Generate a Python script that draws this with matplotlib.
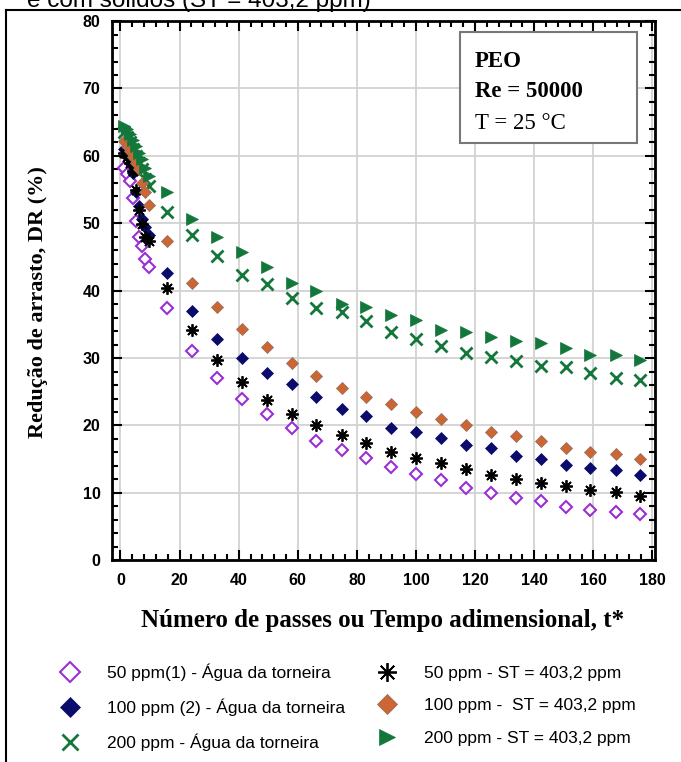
import numpy as np
import matplotlib.pyplot as plt
from matplotlib.lines import Line2D
from matplotlib.patches import Rectangle

# dimensionless time t* (shared by all series)
t = [1.05, 2.1, 3.2, 4.2, 5.3, 6.3, 7.4, 8.4, 9.5,
     15.8, 24.2, 32.6, 41.1, 49.5, 57.9, 66.3, 74.8, 83.2, 91.6,
     100.1, 108.5, 116.9, 125.3, 133.8, 142.2, 150.6, 159.0, 167.5, 175.9]

# drag reduction DR (%)
dr_50_tap = [58.2, 57.3, 56.3, 53.8, 50.3, 48.0, 46.7, 44.7, 43.5,
             37.5, 31.1, 27.1, 24.0, 21.7, 19.7, 17.7, 16.4, 15.2, 13.8,
             12.85, 11.9, 10.8, 10.0, 9.25, 8.85, 7.95, 7.5, 7.1, 6.8]
dr_100_tap = [61.0, 60.2, 59.0, 57.5, 54.6, 52.6, 50.6, 49.4, 48.2,
              42.7, 37.0, 32.9, 30.0, 27.8, 26.1, 24.3, 22.5, 21.4, 19.7,
              19.1, 18.2, 17.1, 16.6, 15.5, 15.0, 14.1, 13.65, 13.4, 12.6]
dr_200_tap = [63.5, 62.8, 62.0, 61.0, 60.0, 59.0, 58.0, 56.5, 55.5,
              51.7, 48.2, 45.1, 42.3, 41.0, 38.9, 37.4, 36.8, 35.5, 33.9,
              32.9, 31.8, 30.8, 30.1, 29.6, 28.8, 28.7, 27.8, 27.1, 26.75]
dr_50_st = [60.5, 59.8, 59.0, 57.8, 55.0, 51.9, 49.9, 48.0, 47.4,
            40.4, 34.2, 29.7, 26.5, 23.8, 21.7, 20.1, 18.6, 17.4, 16.1,
            15.2, 14.5, 13.5, 12.65, 12.1, 11.4, 11.0, 10.5, 10.2, 9.6]
dr_100_st = [62.2, 61.5, 60.8, 59.8, 59.0, 58.0, 56.0, 54.6, 52.7,
             47.3, 41.2, 37.6, 34.3, 31.6, 29.2, 27.3, 25.5, 24.2, 23.2,
             22.05, 20.9, 20.1, 19.0, 18.4, 17.7, 16.6, 16.1, 15.7, 15.0]
dr_200_st = [64.5, 64.0, 63.2, 62.3, 61.5, 60.5, 59.5, 58.2, 57.0,
             54.6, 50.6, 47.9, 45.7, 43.5, 41.2, 40.0, 38.1, 37.6, 36.4,
             35.65, 34.2, 33.8, 33.2, 32.5, 32.2, 31.5, 30.4, 30.5, 29.7]

labels = ['50 ppm(1) - Água da torneira', '100 ppm (2) - Água da torneira',
          '200 ppm - Água da torneira', '50 ppm - ST = 403,2 ppm',
          '100 ppm -  ST = 403,2 ppm', '200 ppm - ST = 403,2 ppm']

W, H = 681, 762
fig = plt.figure(figsize=(W / 100, H / 100), dpi=100)
ax = fig.add_axes([111.6 / W, 1 - 560.3 / H, 543.8 / W, 539.2 / H])

sans = ['Liberation Sans', 'DejaVu Sans']
serif = ['Liberation Serif', 'DejaVu Serif']

styles = [
    dict(marker='D', ms=6.5, mfc='white', mec='#9B2FD6', mew=1.5, ls='none'),
    dict(marker='D', ms=6.5, mfc='#0B0B6B', mec='#0B0B6B', mew=0.5, ls='none'),
    dict(marker='x', ms=8, mec='#13773B', mew=2.0, ls='none'),
    dict(marker=(8, 2, 0), ms=9, mec='black', mew=1.3, ls='none'),
    dict(marker='D', ms=6.5, mfc='#CC6633', mec='#9a7060', mew=0.6, ls='none'),
    dict(marker='>', ms=8, mfc='#13773B', mec='#13773B', mew=0.5, ls='none'),
]
series = [dr_50_tap, dr_100_tap, dr_200_tap, dr_50_st, dr_100_st, dr_200_st]

handles = []
for y, st, lab in zip(series, styles, labels):
    h, = ax.plot(t, y, label=lab, zorder=3, **st)
    handles.append(h)

ax.set_xlim(-3, 181)
ax.set_ylim(0, 80)
ax.set_xticks(np.arange(0, 181, 20))
ax.set_xticks(np.arange(0, 181, 4), minor=True)
ax.set_yticks(np.arange(0, 81, 10))
ax.set_yticks(np.arange(0, 81, 2), minor=True)
ax.grid(True, which='major', color='#d2d2d2', lw=1.3, zorder=0)
ax.set_axisbelow(True)
ax.tick_params(which='both', direction='in', top=True, right=True, width=1.5)
ax.tick_params(which='major', length=7)
ax.tick_params(which='minor', length=4)
ax.tick_params(axis='x', pad=9)
ax.tick_params(axis='y', pad=8)
for sp in ax.spines.values():
    sp.set_linewidth(2)
for lab in ax.get_xticklabels() + ax.get_yticklabels():
    lab.set_fontfamily(sans)
    lab.set_fontweight('bold')
    lab.set_fontsize(11.5)

ax.set_ylabel('Redução de arrasto, DR (%)', family=serif, weight='bold', fontsize=16)
ax.yaxis.set_label_coords(-0.117, 0.479)
ax.set_xlabel('Número de passes ou Tempo adimensional, t*', family=serif,
              weight='bold', fontsize=18)
ax.xaxis.set_label_coords(0.499, -0.111)
ax.xaxis.label.set_va('center')

# info box
fig.patches.append(Rectangle((460 / W, 1 - 143 / H), 177 / W, 111 / H,
                             transform=fig.transFigure, fill=True, fc='white',
                             ec='#777777', lw=1.5, zorder=5))
fig.text(475 / W, 1 - 67 / H, 'PEO', family=serif, weight='bold', fontsize=16.5, zorder=6)
fig.text(475 / W, 1 - 97 / H, 'Re = 50000', family=serif, weight='bold', fontsize=16.5, zorder=6)
fig.text(475 / W, 1 - 129 / H, 'T = 25 °C', family=serif, fontsize=16.5, zorder=6)

# legend
fig.legend(handles, labels, ncol=2, frameon=False, loc='center',
           bbox_to_anchor=(344 / W, 1 - 707 / H), prop={'family': sans, 'size': 12.5},
           markerscale=1.5, labelspacing=1.0, handletextpad=1.15, columnspacing=1.4)

# outer frame and the clipped caption above it
fig.add_artist(Line2D([6 / W, 6 / W], [0, 1 - 10 / H], color='black', lw=1.5))
fig.add_artist(Line2D([6 / W, 1], [1 - 10 / H, 1 - 10 / H], color='black', lw=1.5))
fig.text(27 / W, 1 - 7 / H, 'e com sólidos (ST = 403,2 ppm)', family=sans, fontsize=17.5)

fig.savefig('out.png', dpi=100)
